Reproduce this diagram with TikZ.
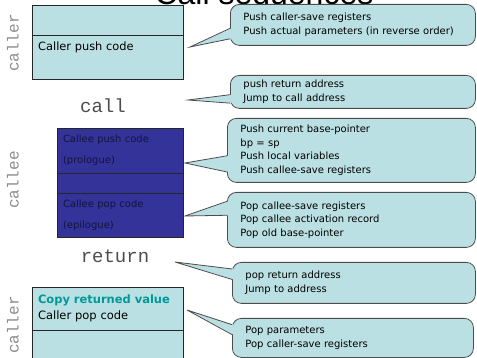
\documentclass[tikz,border=0pt]{standalone}
\usepackage{fontspec}
\setmainfont{DejaVu Sans}
\setmonofont{Liberation Mono}
\newfontfamily\titlefont{Liberation Sans}
\usetikzlibrary{calc}

% wedge of a bubble: node, tip, start and end of its base on the left side
\newcommand{\notewedge}[4]{%
  \fill[bubble fill] ($(#1.north west)!#3!(#1.south west)+(1.5,0)$) -- (#2)
    -- ($(#1.north west)!#4!(#1.south west)+(1.5,0)$) -- cycle;
  \draw[bubble edge] ($(#1.north west)!#3!(#1.south west)$) -- (#2)
    -- ($(#1.north west)!#4!(#1.south west)$);
}

\begin{document}
\begin{tikzpicture}[x=1pt, y=-1pt]

\definecolor{boxteal}{RGB}{187, 224, 227}
\definecolor{calleeblue}{RGB}{51, 51, 153}
\definecolor{calleetext}{RGB}{20, 20, 60}
\definecolor{copyteal}{RGB}{0, 153, 153}
\definecolor{stackgray}{RGB}{140, 140, 140}
\definecolor{opgray}{RGB}{77, 77, 77}

\useasboundingbox (0,0) rectangle (477,358);
\clip (0,0) rectangle (477,358);

\tikzset{
    stackbox/.style={
        draw=black!85, line width=0.9pt, fill=#1,
        rectangle, inner sep=0pt, outer sep=0pt,
        anchor=north west, align=left
    },
    bubble/.style={
        draw=black!70, line width=0.8pt, fill=boxteal,
        rounded corners=9pt, anchor=north west,
        inner xsep=13pt, inner ysep=0pt, align=left,
        font=\fontsize{10}{13.5}\selectfont
    },
    bubble fill/.style={fill=boxteal},
    bubble edge/.style={draw=black!70, line width=0.8pt},
    sidelabel/.style={font=\ttfamily\fontsize{16}{16}\selectfont, text=stackgray, rotate=90},
    oplabel/.style={font=\ttfamily\fontsize{19}{19}\selectfont, text=opgray, anchor=base}
}

% Title (cut at the top)
\node[font=\titlefont\fontsize{32}{32}\selectfont, anchor=base] (title) at (264,5) {Call sequences};

% --- CALLER (before the call) ---
\node[stackbox=boxteal, minimum width=151, minimum height=30] (callertop) at (32,5) {};
\node[stackbox=boxteal, minimum width=151, minimum height=44] (callerpush) at (32,35) {};
\node[anchor=west, inner sep=0pt, font=\fontsize{11.4}{14}\selectfont] (pushtext) at (38,47) {Caller push code};
\node[sidelabel] (callerup) at (13,43) {caller};

\node[oplabel] (calltext) at (103,113) {call};

% --- CALLEE ---
\node[stackbox=calleeblue, minimum width=126, minimum height=45, text width=114, inner xsep=6pt,
      text=calleetext, font=\fontsize{10}{21}\selectfont] (prologue) at (57,128) {Callee push code\\(prologue)};
\node[stackbox=calleeblue, minimum width=126, minimum height=20] (calleemid) at (57,173) {};
\node[stackbox=calleeblue, minimum width=126, minimum height=44, text width=114, inner xsep=6pt,
      text=calleetext, font=\fontsize{10}{21}\selectfont] (epilogue) at (57,193) {Callee pop code\\(epilogue)};
\node[sidelabel] (calleeside) at (13,180) {callee};

\node[oplabel] (returntext) at (115,263) {return};

% --- CALLER (after the return) ---
\node[stackbox=boxteal, minimum width=151, minimum height=43, text width=139, inner xsep=6pt,
      font=\fontsize{11.5}{16}\selectfont] (callerpop) at (32,287)
      {\textcolor{copyteal}{\textbf{Copy returned value}}\\Caller pop code};
\node[stackbox=boxteal, minimum width=151, minimum height=40] (callerbase) at (32,330) {};
\node[sidelabel] (callerdown) at (13,325) {caller};

% --- BUBBLES ---
\node[bubble, minimum width=245, minimum height=41, text width=219] (pushnote) at (230,4)
    {Push caller-save registers\\Push actual parameters (in reverse order)};
\node[bubble, minimum width=245, minimum height=33, text width=219] (callnote) at (230,75)
    {push return address\\Jump to call address};
\node[bubble, minimum width=248, minimum height=64, text width=222] (prolnote) at (227,118)
    {Push current base-pointer\\bp = sp\\Push local variables\\Push callee-save registers};
\node[bubble, minimum width=248, minimum height=55, text width=222] (epilnote) at (227,192)
    {Pop callee-save registers\\Pop callee activation record\\Pop old base-pointer};
\node[bubble, minimum width=243, minimum height=41, text width=217] (retnote) at (232,262)
    {pop return address\\Jump to address};
\node[bubble, minimum width=241, minimum height=39, text width=215] (popnote) at (232,318)
    {Pop parameters\\Pop caller-save registers};

\coordinate (pushtip) at (190,47);
\coordinate (calltip) at (188,100);
\coordinate (proltip) at (185,163);
\coordinate (epiltip) at (185,216);
\coordinate (rettip) at (175,262);
\coordinate (poptip) at (187,310);

\notewedge{pushnote}{pushtip}{0.583}{0.833}
\notewedge{callnote}{calltip}{0.583}{0.833}
\notewedge{prolnote}{proltip}{0.583}{0.833}
\notewedge{epilnote}{epiltip}{0.167}{0.417}
\notewedge{retnote}{rettip}{0.167}{0.417}
\notewedge{popnote}{poptip}{0.167}{0.417}

\end{tikzpicture}
\end{document}
